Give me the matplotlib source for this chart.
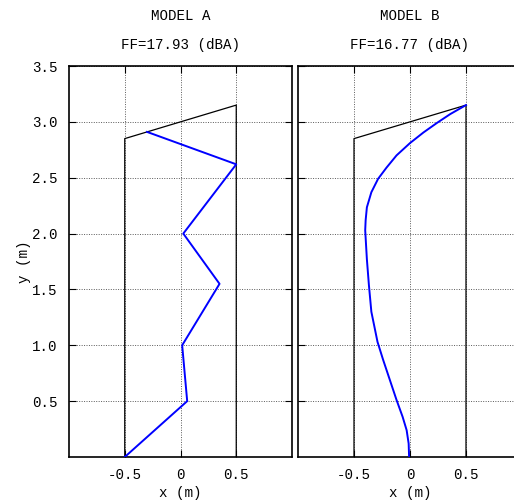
import matplotlib.pyplot as plt

plt.rcParams['font.family'] = ['Liberation Mono', 'DejaVu Sans Mono']
plt.rcParams['font.size'] = 10.2

# contorno del muro (igual en ambos modelos)
wall_x = [-0.5, -0.5, 0.5, 0.5]
wall_y = [0.0, 2.85, 3.15, 0.0]

# modelo A: poligonal
model_a_x = [-0.5, 0.06, 0.015, 0.35, 0.025, 0.5, -0.3]
model_a_y = [0.0, 0.5, 1.0, 1.55, 2.0, 2.62, 2.91]

# modelo B: curva suave
model_b_x = [-0.008, -0.012, -0.03, -0.066, -0.12, -0.18, -0.24, -0.29,
             -0.345, -0.367, -0.385, -0.40, -0.396, -0.385, -0.345, -0.285,
             -0.21, -0.12, 0.0, 0.12, 0.24, 0.36, 0.5]
model_b_y = [0.0, 0.12, 0.24, 0.36, 0.51, 0.69, 0.87, 1.03,
             1.30, 1.54, 1.77, 2.03, 2.12, 2.235, 2.37, 2.49,
             2.59, 2.70, 2.81, 2.905, 2.99, 3.07, 3.15]

titles = ["MODEL A\n\nFF=17.93 (dBA)", "MODEL B\n\nFF=16.77 (dBA)"]
y_ticks = [0.5, 1.0, 1.5, 2.0, 2.5, 3.0, 3.5]
x_ticks = [-0.5, 0, 0.5]
x_tick_labels = ["-0.5", "0", "0.5"]

fig = plt.figure(figsize=(5.14, 5.03), dpi=100)
W, H = 514, 503
ax_a = fig.add_axes([69 / W, 46 / H, 223 / W, 391 / H])
ax_b = fig.add_axes([298 / W, 46 / H, 224 / W, 391 / H])

for ax, xs, ys, title in [(ax_a, model_a_x, model_a_y, titles[0]),
                          (ax_b, model_b_x, model_b_y, titles[1])]:
    ax.plot(wall_x, wall_y, color='black', lw=0.9, zorder=3)
    ax.plot(xs, ys, color='#0000ff', lw=1.4, zorder=4)
    ax.set_xlim(-1, 1)
    ax.set_ylim(0, 3.5)
    ax.set_xticks(x_ticks)
    ax.set_xticklabels(x_tick_labels)
    ax.set_yticks(y_ticks)
    ax.grid(True, linestyle=(0, (1, 1.5)), color='0.35', lw=0.7)
    ax.tick_params(direction='in', length=5, width=0.8, top=True, right=True, pad=8)
    for sp in ax.spines.values():
        sp.set_linewidth(1.2)
    ax.set_title(title, fontsize=10.2, pad=12, linespacing=1.05)
    ax.set_xlabel("x (m)", labelpad=3)

ax_a.set_yticklabels([f"{v:.1f}" for v in y_ticks])
ax_a.set_ylabel("y (m)", labelpad=1)
ax_b.set_yticklabels([])

fig.savefig("out.png", dpi=100)
